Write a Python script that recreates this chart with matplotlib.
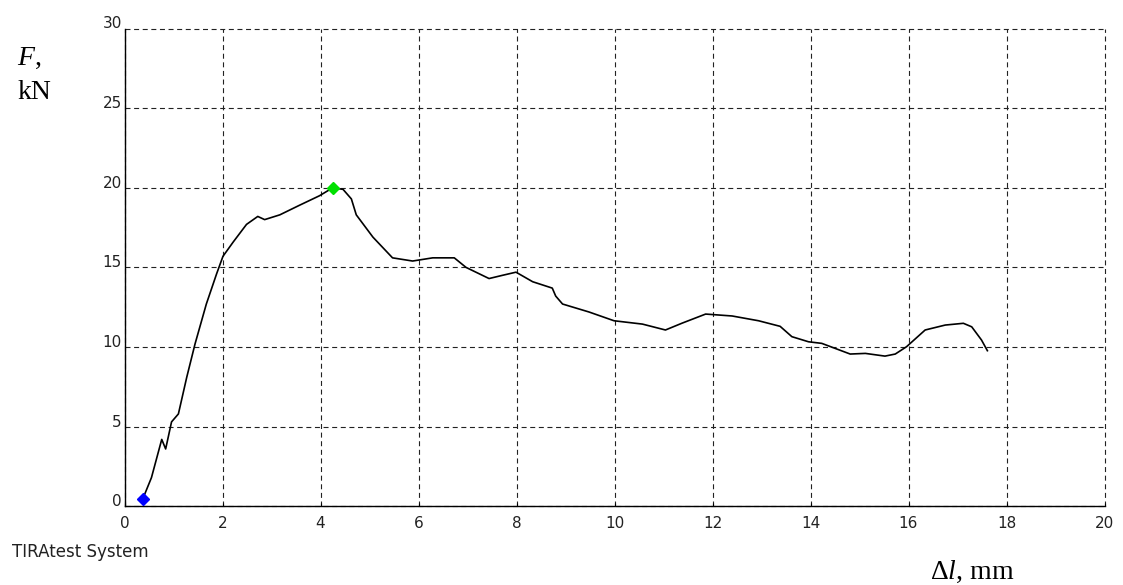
import matplotlib
matplotlib.use("Agg")
import matplotlib.pyplot as plt

# extension (mm) and force (kN)
dl_mm = [0.37, 0.55, 0.76, 0.84, 0.96, 1.10, 1.27, 1.44, 1.67, 1.88,
         2.01, 2.22, 2.49, 2.72, 2.86, 3.17, 3.57, 3.98, 4.25, 4.46,
         4.63, 4.73, 5.07, 5.47, 5.88, 6.29, 6.73, 6.97, 7.44, 7.71,
         7.99, 8.33, 8.73, 8.80, 8.94, 9.48, 9.99, 10.57, 11.04, 11.38,
         11.86, 12.40, 12.94, 13.38, 13.62, 13.96, 14.23, 14.81, 15.12, 15.52,
         15.73, 15.96, 16.34, 16.75, 17.12, 17.29, 17.49, 17.61]
force_kn = [0.44, 1.8, 4.2, 3.6, 5.3, 5.8, 8.1, 10.2, 12.7, 14.6,
            15.7, 16.6, 17.7, 18.2, 18.0, 18.3, 18.9, 19.5, 20.0, 19.9,
            19.3, 18.3, 16.9, 15.6, 15.4, 15.6, 15.6, 15.0, 14.3, 14.5,
            14.7, 14.1, 13.7, 13.2, 12.7, 12.2, 11.65, 11.44, 11.07, 11.5,
            12.07, 11.95, 11.65, 11.3, 10.65, 10.33, 10.23, 9.56, 9.6, 9.43,
            9.56, 10.02, 11.07, 11.38, 11.49, 11.27, 10.44, 9.77]

start_pt = (0.37, 0.44)
max_pt = (4.25, 20.0)

x_ticks = list(range(0, 21, 2))
y_ticks = list(range(0, 31, 5))

plt.rcParams['lines.scale_dashes'] = False
plt.rcParams['mathtext.fontset'] = 'custom'
plt.rcParams['mathtext.rm'] = 'Liberation Serif'
plt.rcParams['mathtext.it'] = 'Liberation Serif:italic'

fig = plt.figure(figsize=(11.23, 5.85), dpi=100)
ax = fig.add_axes([124.5 / 1123, 1 - 506.3 / 585, 980 / 1123, 477.8 / 585])

ax.plot(dl_mm, force_kn, color='black', linewidth=1.2)
ax.plot(*start_pt, marker='D', color='#0000ff', markersize=6.5, zorder=5)
ax.plot(*max_pt, marker='D', color='#00e000', markersize=6.5, zorder=5)

ax.set_xlim(0, 20)
ax.set_ylim(0, 30)
ax.set_xticks(x_ticks)
ax.set_yticks(y_ticks)
ax.grid(True, color='#222222', linestyle=(0, (3.6, 2.6)), linewidth=0.8)
for gl in ax.get_xgridlines() + ax.get_ygridlines():
    gl.set_clip_on(False)
ax.set_axisbelow(True)

for side in ['top', 'right']:
    ax.spines[side].set_visible(False)
for side in ['left', 'bottom']:
    ax.spines[side].set_linewidth(1.0)

ax.tick_params(axis='x', direction='in', length=2, width=0.8, pad=7,
               labelsize=11, labelcolor='#222222')
ax.tick_params(axis='y', length=0, pad=2, labelsize=11, labelcolor='#222222')
for lbl in ax.get_yticklabels():
    lbl.set_verticalalignment('baseline')

fig.text(17 / 1123, 1 - 65 / 585, r'$\mathit{F}$,', family='Liberation Serif',
         fontsize=20, va='baseline')
fig.text(17 / 1123, 1 - 99 / 585, 'kN', family='Liberation Serif',
         fontsize=20, va='baseline')
fig.text(930 / 1123, 1 - 579 / 585, r'$\Delta\mathit{l}$, mm', family='Liberation Serif',
         fontsize=20, va='baseline')
fig.text(12 / 1123, 1 - 557 / 585, 'TIRAtest System', fontsize=12,
         color='#222222', va='baseline')

fig.savefig('out.png', dpi=100)
